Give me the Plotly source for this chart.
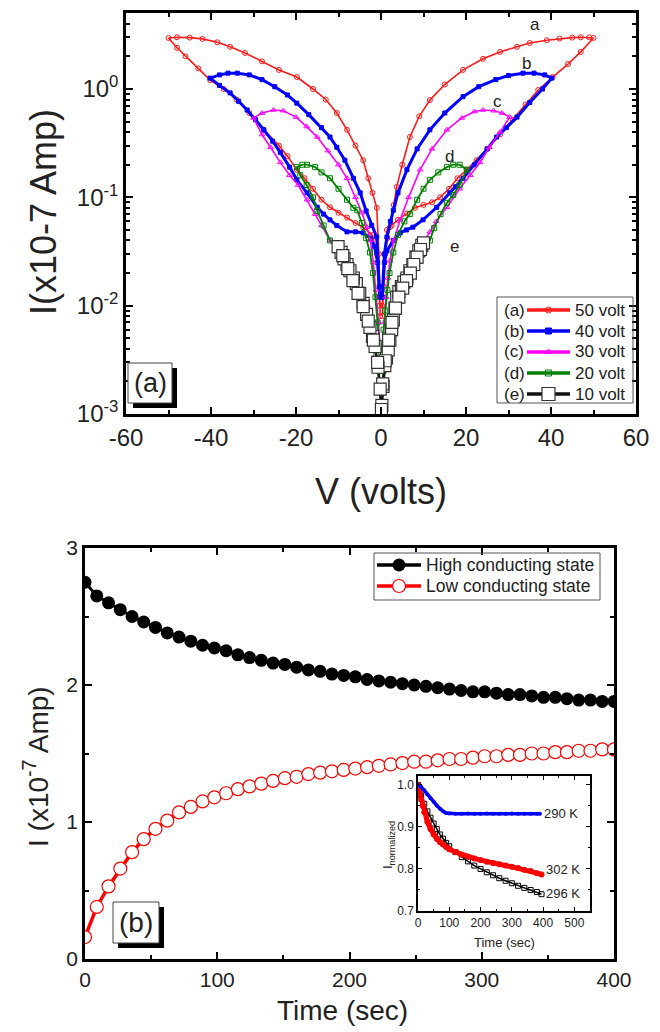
import math
import plotly.graph_objects as go

W, H = 660, 1032
def px(x): return x / W
def py(y): return 1 - y / H

FONT = "Arial, Liberation Sans, sans-serif"
TXT = "#222222"

# ---------------- Panel (a): I-V loops ----------------
va_50 = [0.3, 0.6, 1.0, 1.5, 2.1, 3.0, 3.7, 5.0, 6.8, 9.0, 11.5, 15, 19.3, 24, 28, 32, 35, 39, 42, 45, 47, 49, 50,
         47, 44, 40.4, 37, 34, 31, 28, 25, 22.5, 20.2, 18, 16, 13.9, 12, 10, 8, 6.1, 4, 2.5, 1.4, 0.8, 0.3,
         -0.3, -1, -2, -4.2, -6, -8, -10, -12, -14, -16, -18, -19.8, -22, -24, -27.6, -31, -34, -37, -40.2, -43, -46, -48, -50,
         -48, -45, -42, -38.5, -35.5, -32, -28, -24, -19.8, -16, -13, -10.4, -8, -6, -4.2, -3, -2, -1, -0.5, -0.2]
ia_50 = [0.008, 0.015, 0.03, 0.042, 0.053, 0.085, 0.125, 0.2, 0.36, 0.56, 0.79, 1.1, 1.5, 1.9, 2.2, 2.45, 2.66, 2.82, 2.92, 2.98, 3.0, 3.0, 2.96,
         2.2, 1.7, 1.29, 0.98, 0.72, 0.52, 0.38, 0.28, 0.22, 0.18, 0.15, 0.12, 0.10, 0.09, 0.085, 0.08, 0.071, 0.062, 0.055, 0.05, 0.03, 0.01,
         0.01, 0.03, 0.045, 0.053, 0.058, 0.065, 0.072, 0.081, 0.095, 0.12, 0.15, 0.18, 0.24, 0.3, 0.42, 0.6, 0.8, 1.0, 1.21, 1.55, 2.0, 2.4, 2.96,
         3.0, 2.98, 2.9, 2.7, 2.45, 2.15, 1.8, 1.5, 1.29, 1.0, 0.8, 0.6, 0.42, 0.3, 0.22, 0.15, 0.11, 0.08, 0.03, 0.008]

va_40 = [0.3, 0.8, 1.4, 2.2, 2.9, 4, 6.1, 8.5, 11.5, 15, 19.3, 23, 27, 30, 33.4, 36, 38.5, 40.2,
         38, 35, 32, 29.5, 27.2, 25, 22, 19.3, 17.5, 16.2, 13.1, 9.9, 7.5, 6, 4.5, 2.9, 1.4, 0.8, 0.3,
         -0.3, -0.8, -1.5, -2.5, -4.2, -6, -8, -10.4, -12, -13.5, -15, -17.4, -19.8, -21.5, -23.7, -25.5, -27.6, -29.5, -31.5, -33.5, -35.5, -38, -40.2,
         -38, -36, -33.8, -31, -28, -25, -22, -19.8, -17, -14, -12, -10.4, -8.5, -6.5, -4.9, -3.5, -2.2, -1.0, -0.4]
ia_40 = [0.012, 0.03, 0.043, 0.06, 0.076, 0.11, 0.18, 0.28, 0.42, 0.6, 0.85, 1.05, 1.22, 1.33, 1.4, 1.4, 1.35, 1.26,
         1.0, 0.75, 0.55, 0.44, 0.36, 0.28, 0.2, 0.15, 0.125, 0.11, 0.081, 0.062, 0.053, 0.05, 0.047, 0.04, 0.032, 0.025, 0.012,
         0.012, 0.025, 0.035, 0.042, 0.047, 0.048, 0.048, 0.055, 0.062, 0.07, 0.081, 0.11, 0.145, 0.19, 0.26, 0.33, 0.42, 0.52, 0.64, 0.77, 0.92, 1.08, 1.26,
         1.35, 1.4, 1.4, 1.35, 1.22, 1.05, 0.88, 0.74, 0.58, 0.44, 0.36, 0.29, 0.22, 0.15, 0.11, 0.075, 0.055, 0.043, 0.015]

va_30 = [0.3, 0.7, 1.2, 1.6, 2.1, 3.0, 4.5, 6.5, 9.2, 12, 15.5, 19, 22, 24, 26.5, 28.5, 30.3,
         28, 25.5, 23.3, 21, 18.5, 15.5, 13, 11.5, 9.9, 8, 6.1, 4.5, 3.2, 2.2, 1.5, 0.8,
         -0.8, -1.5, -2.2, -3.2, -4.5, -6, -8, -10, -12, -14, -15.5, -17.4, -19.5, -21.5, -23.7, -26, -28, -30,
         -28, -25.3, -23, -20, -17.5, -15, -12.5, -10, -8, -6, -4.5, -3.3, -2.5, -1.8, -1.2, -0.6, -0.2]
ia_30 = [0.004, 0.007, 0.012, 0.018, 0.026, 0.04, 0.062, 0.1, 0.18, 0.28, 0.42, 0.54, 0.62, 0.64, 0.63, 0.6, 0.55,
         0.4, 0.29, 0.21, 0.16, 0.12, 0.081, 0.06, 0.048, 0.038, 0.03, 0.023, 0.016, 0.011, 0.007, 0.005, 0.004,
         0.004, 0.005, 0.007, 0.01, 0.013, 0.018, 0.023, 0.03, 0.04, 0.055, 0.07, 0.095, 0.13, 0.16, 0.21, 0.29, 0.38, 0.54,
         0.6, 0.64, 0.63, 0.55, 0.45, 0.36, 0.27, 0.2, 0.15, 0.1, 0.072, 0.053, 0.04, 0.025, 0.014, 0.007, 0.004]

va_20 = [0.2, 0.6, 1.0, 1.5, 2.0, 2.9, 4, 5.5, 6.8, 8.5, 10, 11.5, 13.5, 15.5, 17, 18.5, 20.2,
         18.5, 17, 15.5, 14, 12.5, 11.5, 10.3, 9, 7.8, 6.5, 5.3, 4.2, 3.2, 2.4, 1.7, 1.1, 0.6, 0.3,
         -0.3, -0.6, -1.1, -1.7, -2.4, -3.2, -4.2, -5.3, -6.5, -7.8, -9, -10.3, -12, -13.5, -15, -16, -17.5, -19, -19.8,
         -18.5, -17.4, -15.5, -14, -12, -10, -8, -6.5, -5.6, -4.5, -3.5, -2.6, -1.9, -1.3, -0.8, -0.4]
ia_20 = [0.004, 0.006, 0.009, 0.014, 0.02, 0.031, 0.045, 0.06, 0.07, 0.095, 0.12, 0.145, 0.17, 0.19, 0.2, 0.2, 0.18,
         0.13, 0.105, 0.089, 0.07, 0.052, 0.04, 0.033, 0.027, 0.022, 0.018, 0.014, 0.011, 0.0085, 0.0065, 0.005, 0.0035, 0.0025, 0.0018,
         0.0018, 0.0025, 0.0035, 0.005, 0.0065, 0.0085, 0.011, 0.014, 0.018, 0.022, 0.027, 0.033, 0.04, 0.055, 0.075, 0.1, 0.13, 0.16, 0.19,
         0.2, 0.2, 0.19, 0.17, 0.15, 0.12, 0.095, 0.08, 0.076, 0.058, 0.042, 0.031, 0.02, 0.012, 0.007, 0.004]

va_10 = [0.2, 0.5, 0.9, 1.3, 1.7, 2.1, 2.5, 2.9, 3.3, 3.7, 4.2, 4.8, 5.4, 6.1, 6.8, 7.5, 8.2, 8.9, 9.6, 10,
         9.3, 8.5, 7.7, 6.9, 6.0, 5.1, 4.2, 3.4, 2.6, 1.8, 1.0, 0.4,
         -0.2, -0.7, -1.4, -2.0, -2.6, -3.4, -4.2, -5.0, -5.8, -6.5, -7.3, -8.0, -8.7, -9.4, -10.1,
         -9.0, -7.8, -6.6, -5.4, -4.2, -3.0, -1.8, -0.8, 0.1]
ia_10 = [0.0012, 0.0018, 0.0028, 0.0033, 0.0039, 0.0048, 0.006, 0.0074, 0.0095, 0.012, 0.0135, 0.015, 0.0165, 0.018, 0.021, 0.024, 0.028, 0.032, 0.036, 0.038,
         0.033, 0.028, 0.024, 0.02, 0.017, 0.0145, 0.012, 0.0095, 0.007, 0.0048, 0.0031, 0.0019,
         0.0017, 0.0027, 0.0042, 0.0052, 0.0063, 0.0083, 0.0105, 0.013, 0.016, 0.018, 0.021, 0.024, 0.027, 0.031, 0.035,
         0.029, 0.022, 0.017, 0.013, 0.0098, 0.0072, 0.0048, 0.003, 0.0011]

loop_names = ["50 volt", "40 volt", "30 volt", "20 volt", "10 volt"]
loop_tags = ["(a)", "(b)", "(c)", "(d)", "(e)"]
curve_letters = ["a", "b", "c", "d", "e"]
letter_v = [36.2, 34.3, 27.5, 16.0, 17.4]
letter_i = [3.9, 1.73, 0.76, 0.24, 0.035]
v_ticks = [-60, -40, -20, 0, 20, 40, 60]
v_tick_text = ["-60", "-40", "-20", "0", "20", "40", "60"]
i_ticks = [0.001, 0.01, 0.1, 1]
i_tick_text = ["10<sup>-3</sup>", "10<sup>-2</sup>", "10<sup>-1</sup>", "10<sup>0</sup>"]

# ---------------- Panel (b): I-t ----------------
t_b = [0, 8.9, 17.8, 26.7, 35.6, 44.4, 53.3, 62.2, 71.1, 80, 88.9, 97.8, 106.7, 115.6, 124.4, 133.3,
       142.2, 151.1, 160, 168.9, 177.8, 186.7, 195.6, 204.4, 213.3, 222.2, 231.1, 240, 248.9, 257.8,
       266.7, 275.6, 284.4, 293.3, 302.2, 311.1, 320, 328.9, 337.8, 346.7, 355.6, 364.4, 373.3, 382.2, 391.1, 400]
i_high = [2.75, 2.65, 2.60, 2.55, 2.50, 2.46, 2.42, 2.38, 2.35, 2.32, 2.29, 2.27, 2.25, 2.22, 2.20, 2.18,
          2.16, 2.15, 2.13, 2.11, 2.10, 2.08, 2.07, 2.06, 2.04, 2.03, 2.02, 2.01, 2.00, 1.99,
          1.98, 1.97, 1.96, 1.95, 1.95, 1.94, 1.93, 1.93, 1.92, 1.91, 1.91, 1.90, 1.89, 1.89, 1.88, 1.88]
i_low = [0.16, 0.38, 0.53, 0.66, 0.78, 0.875, 0.95, 1.01, 1.07, 1.11, 1.15, 1.18, 1.21, 1.24, 1.26, 1.28,
         1.30, 1.32, 1.33, 1.35, 1.36, 1.37, 1.38, 1.39, 1.40, 1.41, 1.42, 1.43, 1.44, 1.44,
         1.45, 1.46, 1.46, 1.47, 1.48, 1.48, 1.49, 1.49, 1.50, 1.50, 1.51, 1.51, 1.52, 1.52, 1.53, 1.53]
state_names = ["High conducting state", "Low conducting state"]

# ---------------- Inset ----------------
t_290 = [0, 10, 20, 30, 40, 50, 60, 70, 80, 90, 100, 120, 140, 160, 180, 200, 220, 240, 260, 280, 300, 320, 340, 360, 380, 390]
n_290 = [1.0, 0.995, 0.987, 0.977, 0.968, 0.96, 0.951, 0.943, 0.937, 0.933, 0.932, 0.931, 0.931, 0.932, 0.931, 0.931,
         0.932, 0.931, 0.931, 0.931, 0.932, 0.931, 0.931, 0.931, 0.931, 0.931]
t_302 = [0, 5, 10, 15, 20, 30, 40, 50, 60, 70, 80, 90, 100, 120, 140, 160, 180, 200, 220, 240, 260, 280, 300, 320, 340, 360, 380, 395]
n_302 = [1.0, 0.985, 0.965, 0.95, 0.935, 0.912, 0.895, 0.882, 0.872, 0.864, 0.858, 0.852, 0.847, 0.84, 0.834, 0.829,
         0.825, 0.821, 0.817, 0.814, 0.811, 0.808, 0.805, 0.802, 0.798, 0.795, 0.79, 0.787]
t_296 = [0, 10, 20, 30, 40, 50, 60, 70, 80, 90, 100, 120, 140, 160, 180, 200, 220, 240, 260, 280, 300, 320, 340, 360, 380, 395]
n_296 = [1.0, 0.975, 0.955, 0.937, 0.922, 0.908, 0.895, 0.882, 0.872, 0.862, 0.854, 0.84, 0.828, 0.818, 0.808, 0.8,
         0.792, 0.785, 0.778, 0.772, 0.766, 0.76, 0.755, 0.75, 0.745, 0.74]

fig = go.Figure()

colors = ["#ff1a1a", "#0000ff", "#ff00ff", "#008000", "#111111"]
symbols = ["circle-open", "square", "triangle-up-open", "square-open", "square"]
msizes = [5, 4, 5, 5, 12]
lwidths = [1.6, 3.0, 1.6, 1.8, 2.5]
Vs = [va_50, va_40, va_30, va_20, va_10]
Is = [ia_50, ia_40, ia_30, ia_20, ia_10]

def loop_marker(k, size=None):
    if k == 4:
        return dict(symbol="square", size=size or 12, color="white", line=dict(color="#333333", width=1.2))
    return dict(symbol=symbols[k], size=size or msizes[k], color=colors[k], line=dict(color=colors[k], width=1))

for k in range(5):
    fig.add_trace(go.Scatter(x=Vs[k], y=Is[k], mode="lines+markers", name=loop_names[k], showlegend=False,
                             marker=loop_marker(k), line=dict(color=colors[k], width=lwidths[k]),
                             xaxis="x", yaxis="y"))

state_markers = [dict(symbol="circle", size=13, color="black"),
                 dict(symbol="circle", size=13, color="white", line=dict(color="#ff0000", width=1.2))]
state_lines = [dict(color="black", width=3), dict(color="#ff0000", width=3.5)]
fig.add_trace(go.Scatter(x=t_b, y=i_high, mode="lines+markers", name=state_names[0], showlegend=False,
                         marker=state_markers[0], line=state_lines[0], xaxis="x2", yaxis="y2"))
fig.add_trace(go.Scatter(x=t_b, y=i_low, mode="lines+markers", name=state_names[1], showlegend=False,
                         marker=state_markers[1], line=state_lines[1], xaxis="x2", yaxis="y2"))

fig.add_trace(go.Scatter(x=t_296, y=n_296, mode="lines+markers", showlegend=False,
                         marker=dict(symbol="square-open", size=5, color="black", line=dict(width=1)),
                         line=dict(color="black", width=1.5), xaxis="x3", yaxis="y3"))
fig.add_trace(go.Scatter(x=t_302, y=n_302, mode="lines+markers", showlegend=False,
                         marker=dict(symbol="circle", size=6, color="#ff0000"),
                         line=dict(color="#ff0000", width=5), xaxis="x3", yaxis="y3"))
fig.add_trace(go.Scatter(x=t_290, y=n_290, mode="lines+markers", showlegend=False,
                         marker=dict(symbol="circle", size=4, color="#0000ff"),
                         line=dict(color="#0000ff", width=3.5), xaxis="x3", yaxis="y3"))

# ---------- hand-drawn legend keys on a pixel-space overlay axis ----------
LEG_A_ROWS = [310, 331, 352, 373, 394]
for k in range(5):
    yk = LEG_A_ROWS[k]
    fig.add_trace(go.Scatter(x=[527, 570], y=[yk, yk], mode="lines", showlegend=False, hoverinfo="skip",
                             line=dict(color=colors[k], width=3.5), xaxis="x4", yaxis="y4"))
    fig.add_trace(go.Scatter(x=[548.5], y=[yk], mode="markers", showlegend=False, hoverinfo="skip",
                             marker=loop_marker(k, 13 if k == 4 else 6), xaxis="x4", yaxis="y4"))
LEG_B_ROWS = [565, 586]
for k in range(2):
    yk = LEG_B_ROWS[k]
    fig.add_trace(go.Scatter(x=[377, 421], y=[yk, yk], mode="lines", showlegend=False, hoverinfo="skip",
                             line=dict(color=state_lines[k]["color"], width=3.5), xaxis="x4", yaxis="y4"))
    fig.add_trace(go.Scatter(x=[399], y=[yk], mode="markers", showlegend=False, hoverinfo="skip",
                             marker=state_markers[k], xaxis="x4", yaxis="y4"))

axis_common = dict(showline=True, linecolor="black", mirror="ticks", ticks="inside",
                   tickcolor="black", showgrid=False, zeroline=False, automargin=False)

fig.update_layout(
    width=W, height=H, margin=dict(l=0, r=0, t=0, b=0, pad=0, autoexpand=False),
    paper_bgcolor="white", plot_bgcolor="rgba(0,0,0,0)", showlegend=False,
    font=dict(family=FONT, color=TXT),
    xaxis=dict(domain=[px(126), px(636)], range=[-60, 60], tickvals=v_ticks, ticktext=v_tick_text,
               linewidth=2.5, tickwidth=2, ticklen=7,
               minor=dict(ticks="inside", dtick=10, tick0=0, ticklen=4, tickwidth=1.5, tickcolor="black"),
               tickfont=dict(size=24), anchor="y", **axis_common),
    yaxis=dict(domain=[py(414), py(13)], type="log", range=[-3, 0.7015],
               tickvals=i_ticks, ticktext=i_tick_text,
               linewidth=2.5, tickwidth=2, ticklen=7,
               minor=dict(ticks="inside", dtick="D1", ticklen=4, tickwidth=1.5, tickcolor="black"),
               tickfont=dict(size=24), anchor="x", **axis_common),
    xaxis2=dict(domain=[px(85), px(614)], range=[0, 400], dtick=100,
                linewidth=2.5, tickwidth=2, ticklen=7,
                minor=dict(ticks="inside", dtick=50, ticklen=4, tickwidth=1.5, tickcolor="black"),
                tickfont=dict(size=21), anchor="y2", **axis_common),
    yaxis2=dict(domain=[py(959), py(548)], range=[0, 3], dtick=1,
                linewidth=2.5, tickwidth=2, ticklen=7,
                minor=dict(ticks="inside", dtick=0.5, ticklen=4, tickwidth=1.5, tickcolor="black"),
                tickfont=dict(size=21), anchor="x2", **axis_common),
    xaxis3=dict(domain=[px(418), px(590)], range=[0, 550], dtick=100,
                linewidth=1.5, tickwidth=1, ticklen=4,
                minor=dict(ticks="inside", dtick=50, ticklen=2, tickwidth=1, tickcolor="black"),
                tickfont=dict(size=12), anchor="y3", **axis_common),
    yaxis3=dict(domain=[py(911), py(776)], range=[0.7, 1.021], dtick=0.1, tickformat=".1f",
                linewidth=1.5, tickwidth=1, ticklen=4,
                minor=dict(ticks="inside", dtick=0.05, ticklen=2, tickwidth=1, tickcolor="black"),
                tickfont=dict(size=12), anchor="x3", **axis_common),
    xaxis4=dict(domain=[0, 1], range=[0, W], visible=False, fixedrange=True, anchor="y4"),
    yaxis4=dict(domain=[0, 1], range=[H, 0], visible=False, fixedrange=True, anchor="x4"),
)

shapes = []
# panel (a) label box with shadow
shapes.append(dict(type="rect", xref="paper", yref="paper", x0=px(133), x1=px(177), y0=py(408), y1=py(368),
                   fillcolor="black", line=dict(width=0), layer="above"))
shapes.append(dict(type="rect", xref="paper", yref="paper", x0=px(128), x1=px(172), y0=py(403), y1=py(363),
                   fillcolor="white", line=dict(color="#444", width=1), layer="above"))
# panel (b) label box with shadow
shapes.append(dict(type="rect", xref="paper", yref="paper", x0=px(118), x1=px(164), y0=py(948), y1=py(907),
                   fillcolor="black", line=dict(width=0), layer="above"))
shapes.append(dict(type="rect", xref="paper", yref="paper", x0=px(113), x1=px(159), y0=py(943), y1=py(902),
                   fillcolor="white", line=dict(color="#444", width=1), layer="above"))
# legend frames
shapes.append(dict(type="rect", xref="paper", yref="paper", x0=px(497), x1=px(633), y0=py(403), y1=py(297),
                   fillcolor="rgba(0,0,0,0)", line=dict(color="#555", width=1), layer="above"))
shapes.append(dict(type="rect", xref="paper", yref="paper", x0=px(374), x1=px(600), y0=py(600), y1=py(553),
                   fillcolor="rgba(0,0,0,0)", line=dict(color="#555", width=1), layer="above"))
fig.update_layout(shapes=shapes)

ann = []
ann.append(dict(text="(a)", x=px(150), y=py(383), xref="paper", yref="paper", showarrow=False,
                font=dict(size=27, color=TXT), xanchor="center", yanchor="middle"))
ann.append(dict(text="(b)", x=px(136), y=py(922), xref="paper", yref="paper", showarrow=False,
                font=dict(size=28, color=TXT), xanchor="center", yanchor="middle"))
for k in range(5):
    ann.append(dict(text=loop_tags[k], x=px(514), y=py(LEG_A_ROWS[k]), xref="paper", yref="paper", showarrow=False,
                    font=dict(size=17, color=TXT), xanchor="center", yanchor="middle"))
    ann.append(dict(text=loop_names[k], x=px(573), y=py(LEG_A_ROWS[k]), xref="paper", yref="paper", showarrow=False,
                    font=dict(size=17, color=TXT), xanchor="left", yanchor="middle"))
    ann.append(dict(text=curve_letters[k], x=letter_v[k], y=math.log10(letter_i[k]), xref="x", yref="y",
                    showarrow=False, font=dict(size=17, color=TXT), xanchor="center", yanchor="middle"))
for k in range(2):
    ann.append(dict(text=state_names[k], x=px(424), y=py(LEG_B_ROWS[k]), xref="paper", yref="paper", showarrow=False,
                    font=dict(size=17.5, color=TXT), xanchor="left", yanchor="middle"))
# axis titles
ann.append(dict(text="V (volts)", x=px(381), y=py(492), xref="paper", yref="paper", showarrow=False,
                font=dict(size=36, color=TXT), xanchor="center", yanchor="middle"))
ann.append(dict(text="I(x10-7 Amp)", x=px(43), y=py(212), xref="paper", yref="paper", showarrow=False,
                textangle=-90, font=dict(size=36, color=TXT), xanchor="center", yanchor="middle"))
ann.append(dict(text="Time (sec)", x=px(342), y=py(1010), xref="paper", yref="paper", showarrow=False,
                font=dict(size=28, color=TXT), xanchor="center", yanchor="middle"))
ann.append(dict(text="I (x10<sup>-7</sup> Amp)", x=px(36), y=py(767), xref="paper", yref="paper", showarrow=False,
                textangle=-90, font=dict(size=28, color=TXT), xanchor="center", yanchor="middle"))
# inset titles and labels
ann.append(dict(text="Time (sec)", x=px(504), y=py(942), xref="paper", yref="paper", showarrow=False,
                font=dict(size=13, color=TXT), xanchor="center", yanchor="middle"))
ann.append(dict(text="I<sub>normalized</sub>", x=px(388), y=py(845), xref="paper", yref="paper", showarrow=False,
                textangle=-90, font=dict(size=13, color=TXT), xanchor="center", yanchor="middle"))
ann.append(dict(text="290 K", x=t_290[-1] + 8, y=n_290[-1], xref="x3", yref="y3", showarrow=False,
                font=dict(size=13, color=TXT), xanchor="left", yanchor="middle"))
ann.append(dict(text="302 K", x=t_302[-1] + 8, y=n_302[-1] + 0.012, xref="x3", yref="y3", showarrow=False,
                font=dict(size=13, color=TXT), xanchor="left", yanchor="middle"))
ann.append(dict(text="296 K", x=t_296[-1] + 8, y=n_296[-1] + 0.002, xref="x3", yref="y3", showarrow=False,
                font=dict(size=13, color=TXT), xanchor="left", yanchor="middle"))
fig.update_layout(annotations=ann)

fig.write_html("out.html")
